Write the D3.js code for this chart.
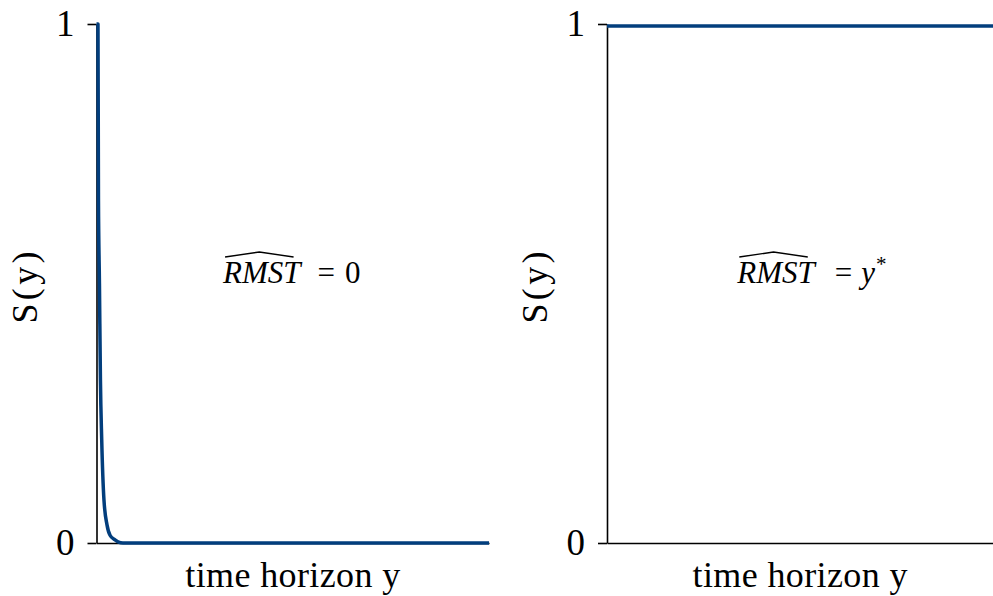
<!DOCTYPE html>
<html>
<head>
<meta charset="utf-8">
<script src="https://cdn.jsdelivr.net/npm/d3@7"></script>
<style>
  body { margin: 0; background: #fff; }
  svg { display: block; }
</style>
</head>
<body>
<div id="chart"></div>
<script>
// survival curve (left panel drops to 0 almost at once)
const leftTimes = [0, 1.5, 2, 3, 4, 5.3, 7.6, 10.7, 13.8, 18.9, 22, 27, 400];
const leftSurv  = [1, 1, 0.66, 0.5, 0.315, 0.2, 0.083, 0.035, 0.015, 0.006, 0.002, 0, 0];
// right panel: survival stays at 1
const rightTimes = [0, 400];
const rightSurv  = [0.996, 0.996];

const yTicks = [0, 1];
const yLabel = "S(y)";
const xLabel = "time horizon y";
const notes = [
  { lhs: "RMST", rhs: "0", rhsItalic: false, sup: "" },
  { lhs: "RMST", rhs: "y", rhsItalic: true, sup: "*" }
];

const width = 993, height = 596;
const plotTop = 24, plotBottom = 543;
const FONT = "'Liberation Serif'";
const panels = [
  { left: 96.5, right: 489, times: leftTimes, surv: leftSurv, note: notes[0], noteX: 129 },
  { left: 607, right: 993, times: rightTimes, surv: rightSurv, note: notes[1], noteX: 135 }
];

const svg = d3.select("#chart").append("svg")
  .attr("width", width)
  .attr("height", height);

const y = d3.scaleLinear().domain([0, 1]).range([plotBottom, plotTop]);

panels.forEach(p => {
  const x = d3.scaleLinear().domain([0, 400]).range([p.left, p.right]);
  const g = svg.append("g");

  // x axis, no ticks
  g.append("g")
    .attr("transform", `translate(0,${plotBottom})`)
    .call(d3.axisBottom(x).tickValues([]).tickSizeOuter(0))
    .call(a => a.select(".domain").attr("stroke", "#000").attr("stroke-width", 1.6));

  // y axis
  g.append("g")
    .attr("transform", `translate(${p.left},0)`)
    .call(d3.axisLeft(y).tickValues(yTicks).tickSize(9).tickSizeOuter(0).tickPadding(13).tickFormat(d3.format("d")))
    .call(a => a.select(".domain").attr("stroke", "#000").attr("stroke-width", 1.6))
    .call(a => a.selectAll(".tick line").attr("stroke", "#000").attr("stroke-width", 1.6))
    .call(a => a.selectAll(".tick text")
      .attr("fill", "#000")
      .style("font-family", FONT)
      .style("font-size", "37px"));

  // axis titles
  g.append("text")
    .attr("x", (p.left + p.right) / 2)
    .attr("y", 587)
    .attr("text-anchor", "middle")
    .attr("textLength", 215)
    .attr("lengthAdjust", "spacing")
    .style("font-family", FONT)
    .style("font-size", "36px")
    .text(xLabel);

  g.append("text")
    .attr("transform", `translate(${p.left - 60},${(plotTop + plotBottom) / 2 + 4}) rotate(-90)`)
    .attr("text-anchor", "middle")
    .attr("textLength", 72)
    .attr("lengthAdjust", "spacing")
    .style("font-family", FONT)
    .style("font-size", "36px")
    .text(yLabel);

  // curve
  const pts = p.times.map((t, i) => [t, p.surv[i]]);
  g.append("path")
    .datum(pts)
    .attr("fill", "none")
    .attr("stroke", "#023e7d")
    .attr("stroke-width", 3.5)
    .attr("stroke-linejoin", "round")
    .attr("d", d3.line().x(d => x(d[0])).y(d => y(d[1])).curve(d3.curveMonotoneX));

  // annotation: RMST-hat = ...
  const tx = x(p.noteX), ty = 283;
  const txt = g.append("text")
    .attr("x", tx)
    .attr("y", ty)
    .style("font-family", FONT)
    .style("font-size", "31px");
  const lhs = txt.append("tspan").style("font-style", "italic").text(p.note.lhs);
  txt.append("tspan").attr("dx", p.note.rhsItalic ? 20 : 17).text("=");
  txt.append("tspan").attr("dx", p.note.rhsItalic ? 9 : 10)
    .style("font-style", p.note.rhsItalic ? "italic" : "normal").text(p.note.rhs);
  if (p.note.sup) {
    txt.append("tspan").attr("dx", 1).attr("dy", -12).style("font-size", "21px").text(p.note.sup);
  }
  const w = lhs.node().getComputedTextLength();
  const hx0 = tx + 2, hx1 = tx + w - 7;
  g.append("path")
    .attr("fill", "none")
    .attr("stroke", "#000")
    .attr("stroke-width", 1.4)
    .attr("d", `M${hx0},${ty - 26} L${(hx0 + hx1) / 2},${ty - 31} L${hx1},${ty - 26}`);
});
</script>
</body>
</html>
